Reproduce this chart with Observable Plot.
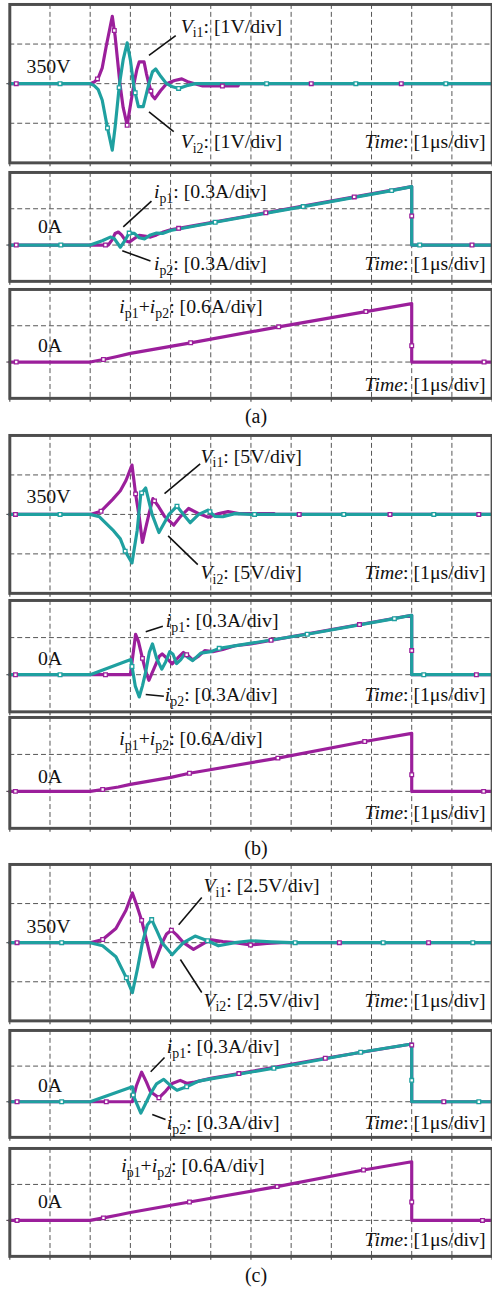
<!DOCTYPE html>
<html><head><meta charset="utf-8">
<script src="https://cdn.jsdelivr.net/npm/d3@7"></script>
<script src="https://cdn.jsdelivr.net/npm/@observablehq/plot@0.6"></script>
<style>
html,body{margin:0;padding:0;background:#fff;overflow:hidden;}
#wrap{position:relative;width:492px;height:1291px;overflow:hidden;background:#fff;}
.panel{position:absolute;left:0;}
.cap{position:absolute;left:0;width:512px;text-align:center;font-family:"Liberation Serif","Times New Roman",serif;font-size:20px;line-height:20px;color:#111;}
</style></head><body><div id="wrap"></div>
<script>
// ---------------- DATA ----------------
// time axis: 12 divisions, 1 μs/div
const timeTicks = [0,1,2,3,4,5,6,7,8,9,10,11,12];
// scale per division, as printed on the chart
const voltsPerDiv = {a: 1, b: 5, c: 2.5};
const ampsPerDiv = 0.3;
const sumAmpsPerDiv = 0.6;
const captions = ["(a)", "(b)", "(c)"];

// traces: [time (μs), deviation from reference level (divisions)]
// (a)
const aVi1 = [[0,0],[2,0],[2.1,0.04],[2.2,0.14],[2.3,0.4],[2.4,0.95],[2.48,1.35],[2.55,1.7],[2.62,1.2],[2.68,0.6],[2.74,0],[2.82,-0.6],[2.92,-1.05],[3.0,-0.55],[3.09,0],[3.16,0.35],[3.22,0.55],[3.34,0.55],[3.4,0.25],[3.46,0],[3.54,-0.3],[3.61,-0.38],[3.75,-0.18],[3.9,0],[4.1,0.08],[4.28,0.12],[4.45,0.04],[4.6,0],[4.8,-0.06],[5.68,-0.06],[5.7,0],[12,0]];
const aVi2 = [[0,0],[2,0],[2.1,-0.05],[2.2,-0.15],[2.3,-0.42],[2.43,-1.12],[2.55,-1.68],[2.62,-1.1],[2.73,0],[2.82,0.6],[2.92,1.03],[3.0,0.6],[3.09,-0.1],[3.2,-0.58],[3.32,-0.58],[3.4,-0.25],[3.46,0],[3.55,0.3],[3.63,0.37],[3.76,0.18],[3.9,0],[4.05,-0.08],[4.2,-0.12],[4.4,-0.05],[4.62,0],[12,0]];
const aIp1 = [[0,0],[2,0],[2.45,0],[2.55,0.15],[2.62,0.32],[2.7,0.36],[2.78,0.28],[2.88,0.12],[2.97,0.08],[3.1,0.18],[3.22,0.27],[3.35,0.25],[3.5,0.22],[3.65,0.28],[3.8,0.35],[4,0.42],[4.2,0.46],[10,1.61],[10,0],[12,0]];
const aIp2 = [[0,0],[2,0],[2.3,0.12],[2.5,0.22],[2.6,0.18],[2.68,0.05],[2.75,-0.06],[2.85,0.1],[2.97,0.33],[3.1,0.32],[3.22,0.2],[3.35,0.17],[3.5,0.28],[3.65,0.33],[3.8,0.32],[4,0.4],[5.11,0.63],[7.3,1.06],[9.5,1.5],[10,1.61],[10,0],[12,0]];
const aSum = [[0,0],[2,0],[2.33,0.07],[2.7,0.16],[3,0.24],[4.5,0.53],[6.69,0.97],[8.86,1.39],[10,1.61],[10,0],[12,0]];
// (b)
const bVi1 = [[0,0],[2,0],[2.27,0.08],[2.56,0.38],[2.75,0.6],[2.89,0.86],[3.04,1.25],[3.13,0.52],[3.22,-0.06],[3.3,-0.71],[3.38,-0.35],[3.46,0],[3.56,0.4],[3.7,0.2],[3.85,-0.05],[4.08,-0.27],[4.25,-0.05],[4.45,0.15],[4.7,0.02],[4.94,-0.07],[5.2,0.02],[5.43,0.07],[5.7,0.02],[6.58,0.02],[6.6,0],[12,0]];
const bVi2 = [[0,0],[2,0],[2.23,-0.06],[2.56,-0.39],[2.75,-0.62],[2.87,-0.93],[3.04,-1.23],[3.17,-0.4],[3.26,0.52],[3.38,0.67],[3.54,0],[3.71,-0.46],[3.96,0],[4.16,0.21],[4.32,0],[4.49,-0.21],[4.7,0],[4.94,0.11],[5.1,-0.05],[5.3,-0.06],[5.6,0.02],[6.0,0],[12,0]];
const bIp1 = [[0,0],[3.0,0],[3.06,0.5],[3.13,1.09],[3.2,0.9],[3.3,0.44],[3.38,0.1],[3.46,-0.15],[3.6,0.2],[3.72,0.5],[3.79,0.56],[3.9,0.45],[4.04,0.29],[4.18,0.45],[4.32,0.6],[4.45,0.5],[4.55,0.4],[4.7,0.5],[4.85,0.65],[5.05,0.62],[5.3,0.68],[5.6,0.78],[6,0.83],[10,1.6],[10,0],[12,0]];
const bIp2 = [[0,0],[2,0],[3.01,0.41],[3.05,0.16],[3.12,-0.3],[3.22,-0.6],[3.3,-0.3],[3.38,0.07],[3.47,0.6],[3.55,0.83],[3.65,0.45],[3.78,0.15],[3.88,0.35],[3.98,0.62],[4.06,0.55],[4.15,0.3],[4.25,0.4],[4.35,0.55],[4.45,0.45],[4.55,0.38],[4.75,0.58],[5.0,0.62],[5.21,0.71],[7.4,1.09],[9.57,1.51],[10,1.6],[10,0],[12,0]];
const bSum = [[0,0],[2,0],[2.31,0.05],[2.7,0.12],[3,0.19],[4.01,0.38],[4.47,0.49],[6.67,0.9],[8.83,1.35],[10,1.57],[10,0],[12,0]];
// (c)
const cVi1 = [[0,0],[2,0],[2.31,0.08],[2.64,0.36],[2.89,0.83],[3.05,1.27],[3.16,0.95],[3.28,0.57],[3.42,-0.02],[3.56,-0.62],[3.68,-0.3],[3.79,0],[3.9,0.22],[4.02,0.32],[4.15,0.2],[4.32,0],[4.57,-0.17],[4.86,0],[5.02,0.07],[5.3,0.03],[5.6,0],[5.99,-0.06],[6.4,-0.02],[6.75,0],[12,0]];
const cVi2 = [[0,0],[2,0],[2.31,-0.08],[2.64,-0.36],[2.9,-0.9],[3.05,-1.28],[3.18,-0.65],[3.3,0],[3.42,0.45],[3.53,0.59],[3.66,0.3],[3.79,0],[4.04,-0.31],[4.18,-0.15],[4.32,0],[4.61,0.17],[4.92,0.05],[5.19,-0.08],[5.6,0],[6.0,0.05],[6.5,0.02],[7,0],[12,0]];
const cIp1 = [[0,0],[3.05,0],[3.15,0.45],[3.28,0.83],[3.4,0.55],[3.5,0.28],[3.71,0.11],[3.88,0.3],[4.04,0.51],[4.24,0.6],[4.4,0.52],[4.6,0.55],[5.0,0.66],[5.7,0.79],[7.85,1.22],[10,1.62],[10,0],[12,0]];
const cIp2 = [[0,0],[2,0],[3.05,0.42],[3.1,0.1],[3.26,-0.32],[3.38,-0.05],[3.5,0.23],[3.65,0.5],[3.83,0.63],[4.0,0.45],[4.16,0.32],[4.4,0.42],[4.7,0.58],[5.0,0.64],[6.57,0.94],[8.73,1.39],[10,1.62],[10,0],[12,0]];
const cSum = [[0,0],[2,0],[2.33,0.07],[2.7,0.15],[3,0.22],[4.47,0.51],[6.65,0.94],[8.8,1.4],[10,1.63],[10,0],[12,0]];

// sample markers: time (μs), or [time, divisions] where the trace is vertical
const aVi1Marks = [0.16,2.18,2.6,2.92,3.51,5.29,7.5,9.74];
const aVi2Marks = [1.25,2.43,2.72,3.12,4.2,6.39,8.61,10.85];
const aIp1Marks = [0.16,2.38,4.2,6.37,8.57,[10,0.8],11.5];
const aIp2Marks = [1.27,2.97,5.11,7.3,9.5,10.2];
const aSumMarks = [0.16,2.33,4.5,6.69,8.86,[10,0.45],11.8];
const bVi1Marks = [0.14,2.27,3.13,3.6,7.2,9.46,11.67];
const bVi2Marks = [1.25,2.87,3.28,4.16,4.98,6.09,8.31,10.55];
const bIp1Marks = [0.14,2.38,3.3,4.4,6.5,8.7,[10,0.65],11.61];
const bIp2Marks = [1.25,3.04,5.21,7.4,9.57,10.3];
const bSumMarks = [0.14,2.31,4.47,6.67,8.83,[10,0.45],11.79];
const cVi1Marks = [0.18,2.31,3.28,4.02,5.99,8.2,10.42];
const cVi2Marks = [1.29,2.9,3.53,4.92,7.1,9.29,11.52];
const cIp1Marks = [0.18,2.4,3.71,5.7,7.85,[10,1.59],10.8];
const cIp2Marks = [1.29,[3.07,0.19],4.4,6.57,8.73,[10,0.6],11.67];
const cSumMarks = [0.18,2.33,4.47,6.65,8.8,[10,0.51],11.76];

// text labels ({i:..} italic, {s:..} subscript)
const timeLabel = "{i:Time}: [1μs/div]";
const vLevel = "350V", iLevel = "0A";
const lblVi1 = k => `{i:V}{s:i1}: [${voltsPerDiv[k]}V/div]`;
const lblVi2 = k => `{i:V}{s:i2}: [${voltsPerDiv[k]}V/div]`;
const lblIp1 = `{i:i}{s:p1}: [${ampsPerDiv}A/div]`;
const lblIp2 = `{i:i}{s:p2}: [${ampsPerDiv}A/div]`;
const lblSum = `{i:i}{s:p1}+{i:i}{s:p2}: [${sumAmpsPerDiv}A/div]`;

// ---------------- STYLE / LAYOUT ----------------
const SERIF = '"Liberation Serif","Times New Roman",Times,serif';
const PURPLE = "#9b1f9b", TEAL = "#1fa0a0";
const X0 = 9.4, DX = 40.6; // page px of time 0, px per division
const FS = 20;

function valueAt(tr, t) {
  for (let i = 1; i < tr.length; i++) {
    const [t0, v0] = tr[i-1], [t1, v1] = tr[i];
    if (t >= t0 && t <= t1 && t1 > t0) return v0 + (v1 - v0) * (t - t0) / (t1 - t0);
  }
  return tr[tr.length-1][1];
}

const panels = [
  {top:3.5, bottom:163.5, ndiv:4, lo:-2, perDiv:voltsPerDiv.a,
   traces:[[aVi1,PURPLE,aVi1Marks],[aVi2,TEAL,aVi2Marks]],
   labels:[{s:vLevel,x:48.5,y:73,a:"middle"},{s:lblVi1("a"),x:182,y:32,a:"start"},{s:lblVi2("a"),x:182,y:149,a:"start"},{s:timeLabel,x:490,y:149,a:"end"}],
   leaders:[[150,55,177,35],[150,112,175,132]]},
  {top:172, bottom:282, ndiv:3, lo:-1, perDiv:ampsPerDiv,
   traces:[[aIp1,PURPLE,aIp1Marks],[aIp2,TEAL,aIp2Marks]],
   labels:[{s:iLevel,x:50,y:233,a:"middle"},{s:lblIp1,x:155,y:198,a:"start"},{s:lblIp2,x:155,y:271,a:"start"},{s:timeLabel,x:490,y:271,a:"end"}],
   leaders:[[124,227,152.5,201],[123,251,151.5,261.5]]},
  {top:289, bottom:399, ndiv:3, lo:-1, perDiv:sumAmpsPerDiv,
   traces:[[aSum,PURPLE,aSumMarks]],
   labels:[{s:iLevel,x:50,y:352,a:"middle"},{s:lblSum,x:120,y:313,a:"start"},{s:timeLabel,x:490,y:392,a:"end"}],
   leaders:[]},
  {top:434.5, bottom:594, ndiv:4, lo:-2, perDiv:voltsPerDiv.b,
   traces:[[bVi1,PURPLE,bVi1Marks],[bVi2,TEAL,bVi2Marks]],
   labels:[{s:vLevel,x:48.5,y:503,a:"middle"},{s:lblVi1("b"),x:202,y:462,a:"start"},{s:lblVi2("b"),x:202,y:580,a:"start"},{s:timeLabel,x:490,y:580,a:"end"}],
   leaders:[[165.7,493.3,201.7,463.3],[169.3,536,199.3,565]]},
  {top:600, bottom:712.5, ndiv:3, lo:-1, perDiv:ampsPerDiv,
   traces:[[bIp1,PURPLE,bIp1Marks],[bIp2,TEAL,bIp2Marks]],
   labels:[{s:iLevel,x:50,y:665,a:"middle"},{s:lblIp1,x:167,y:627,a:"start"},{s:lblIp2,x:166,y:702,a:"start"},{s:timeLabel,x:490,y:702,a:"end"}],
   leaders:[[146.7,631.7,164,626],[146.7,695,165,696.7]]},
  {top:717, bottom:829, ndiv:3, lo:-1, perDiv:sumAmpsPerDiv,
   traces:[[bSum,PURPLE,bSumMarks]],
   labels:[{s:iLevel,x:50,y:783,a:"middle"},{s:lblSum,x:120,y:745,a:"start"},{s:timeLabel,x:490,y:820,a:"end"}],
   leaders:[]},
  {top:864, bottom:1022, ndiv:4, lo:-2, perDiv:voltsPerDiv.c,
   traces:[[cVi1,PURPLE,cVi1Marks],[cVi2,TEAL,cVi2Marks]],
   labels:[{s:vLevel,x:48.5,y:933,a:"middle"},{s:lblVi1("c"),x:205,y:892,a:"start"},{s:lblVi2("c"),x:205,y:1008,a:"start"},{s:timeLabel,x:490,y:1008,a:"end"}],
   leaders:[[180,925,203.3,897.3],[181.7,960,203.3,993.3]]},
  {top:1030, bottom:1138, ndiv:3, lo:-1, perDiv:ampsPerDiv,
   traces:[[cIp1,PURPLE,cIp1Marks],[cIp2,TEAL,cIp2Marks]],
   labels:[{s:iLevel,x:50,y:1092,a:"middle"},{s:lblIp1,x:168,y:1053,a:"start"},{s:lblIp2,x:168,y:1130,a:"start"},{s:timeLabel,x:490,y:1130,a:"end"}],
   leaders:[[151.7,1071.7,165.7,1057.3],[153.3,1115,166.7,1120]]},
  {top:1148, bottom:1257, ndiv:3, lo:-1, perDiv:sumAmpsPerDiv,
   traces:[[cSum,PURPLE,cSumMarks]],
   labels:[{s:iLevel,x:50,y:1208,a:"middle"},{s:lblSum,x:122,y:1172,a:"start"},{s:timeLabel,x:490,y:1247,a:"end"}],
   leaders:[]}
];
const captionBaselines = [423, 855, 1282];

function richify(svg) {
  const NS = "http://www.w3.org/2000/svg";
  svg.querySelectorAll("text").forEach(el => {
    const s = el.textContent;
    if (!s.includes("{")) return;
    el.textContent = "";
    const re = /\{(i|s):([^}]*)\}|([^{]+)/g;
    let m, shifted = false;
    while ((m = re.exec(s))) {
      const ts = document.createElementNS(NS, "tspan");
      if (m[1] === "s") {
        ts.textContent = m[2];
        ts.setAttribute("font-size", Math.round(FS * 0.7));
        ts.setAttribute("dy", 4.5);
        shifted = true;
      } else {
        ts.textContent = m[1] === "i" ? m[2] : m[3];
        if (m[1] === "i") ts.setAttribute("font-style", "italic");
        if (shifted) { ts.setAttribute("dy", -4.5); shifted = false; }
      }
      el.appendChild(ts);
    }
  });
}

const wrap = document.getElementById("wrap");
const MT = 3, MB = 6;
panels.forEach(p => {
  const H = p.bottom - p.top;
  const toT = x => (x - X0) / DX;
  const toV = y => (p.lo + p.ndiv * (p.bottom - y) / H) * p.perDiv;
  const marks = [];
  const gridVals = d3.range(1, p.ndiv).map(k => (p.lo + k) * p.perDiv);
  marks.push(Plot.gridX(timeTicks.slice(1, -1), {stroke: "#555", strokeOpacity: 1, strokeWidth: 1, strokeDasharray: "5,3"}));
  marks.push(Plot.gridY(gridVals, {stroke: "#555", strokeOpacity: 1, strokeWidth: 1, strokeDasharray: "5,3"}));
  marks.push(Plot.axisX({ticks: timeTicks, tickSize: 4, tickFormat: () => "", label: null, stroke: "#555", strokeWidth: 1.2}));
  marks.push(Plot.axisY({ticks: [0], tickSize: 3, tickFormat: () => "", label: null, stroke: "#555", strokeWidth: 1.2}));
  p.traces.forEach(([tr, color]) => {
    marks.push(Plot.line(tr, {x: d => d[0], y: d => d[1] * p.perDiv, stroke: color, strokeWidth: 3.2, strokeLinejoin: "round"}));
  });
  p.traces.forEach(([tr, color, mk]) => {
    const pts = mk.map(m => Array.isArray(m) ? {t: m[0], v: m[1] * p.perDiv} : {t: m, v: valueAt(tr, m) * p.perDiv});
    marks.push(Plot.dot(pts, {x: "t", y: "v", symbol: "square", r: 2.1, fill: "white", stroke: color, strokeWidth: 1.3}));
  });
  marks.push(Plot.frame({stroke: "#4d4d4d", strokeWidth: 3}));
  marks.push(Plot.link(p.leaders, {x1: d => toT(d[0]), y1: d => toV(d[1]), x2: d => toT(d[2]), y2: d => toV(d[3]), stroke: "#111", strokeWidth: 1.6}));
  ["start", "middle", "end"].forEach(a => {
    const L = p.labels.filter(l => l.a === a);
    if (L.length) marks.push(Plot.text(L, {x: d => toT(d.x), y: d => toV(d.y), text: "s", textAnchor: a, lineAnchor: "bottom", fill: "#111", fontSize: FS}));
  });
  const svg = Plot.plot({
    width: 497, height: H + MT + MB,
    marginLeft: X0, marginRight: 497 - X0 - 12 * DX, marginTop: MT, marginBottom: MB,
    x: {domain: [0, 12]},
    y: {domain: [p.lo * p.perDiv, (p.lo + p.ndiv) * p.perDiv]},
    style: {fontFamily: SERIF, fontSize: FS + "px", background: "transparent", overflow: "visible"},
    marks
  });
  richify(svg);
  const div = document.createElement("div");
  div.className = "panel";
  div.style.top = (p.top - MT) + "px";
  div.appendChild(svg);
  wrap.appendChild(div);
});
captions.forEach((c, i) => {
  const d = document.createElement("div");
  d.className = "cap";
  d.textContent = c;
  d.style.top = (captionBaselines[i] - 17) + "px";
  wrap.appendChild(d);
});
</script>
</body></html>
